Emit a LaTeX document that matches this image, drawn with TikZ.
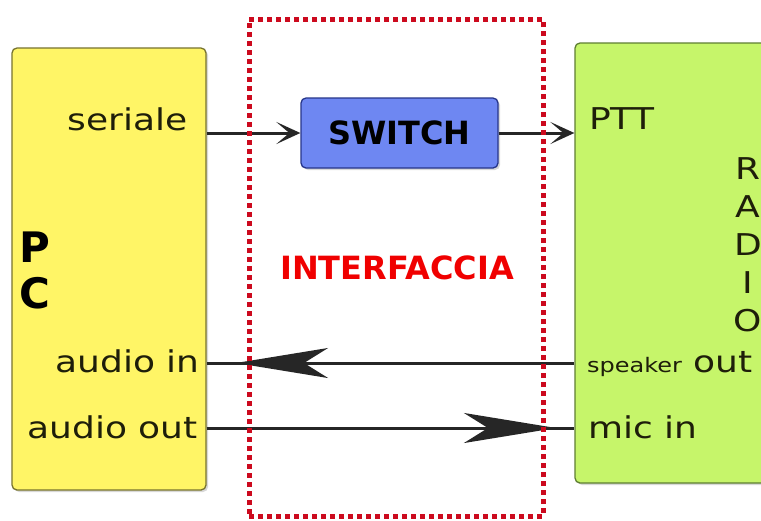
\documentclass[tikz,border=0pt]{standalone}
\usepackage{fontspec}
\setmainfont{DejaVu Sans}[FakeStretch=1.2]
\newfontfamily\blockfont{DejaVu Sans}
\usetikzlibrary{arrows.meta,shadows}

\definecolor{pcyellow}{HTML}{FFF566}
\definecolor{pcedge}{HTML}{77732E}
\definecolor{radiogreen}{HTML}{C6F56A}
\definecolor{radioedge}{HTML}{5E7E32}
\definecolor{swblue}{HTML}{6E87F2}
\definecolor{swedge}{HTML}{26358A}
\definecolor{dotred}{HTML}{CC0A1E}
\definecolor{ifred}{HTML}{F00000}
\definecolor{lblgray}{HTML}{1E1E0A}

\tikzset{
  smallhead/.tip={Stealth[length=24pt,width=22pt,inset=13pt]},
  bighead/.tip={Stealth[length=92pt,width=30pt,inset=24pt]},
}

\begin{document}
\begin{tikzpicture}[x=1pt,y=-1pt,
  box/.style={draw, rounded corners=5pt, line width=1.3pt, inner sep=0pt,
    drop shadow={shadow xshift=2pt,shadow yshift=-2pt,opacity=.3}},
  pcbox/.style={box, fill=pcyellow, draw=pcedge, minimum width=194pt, minimum height=442pt},
  radiobox/.style={box, fill=radiogreen, draw=radioedge, minimum width=215pt, minimum height=440pt},
  swbox/.style={box, fill=swblue, draw=swedge, minimum width=197pt, minimum height=70pt,
    font=\blockfont\bfseries\fontsize{32}{32}\selectfont, text=black},
  iface/.style={draw=dotred, line width=5pt, dash pattern=on 5pt off 4pt,
    minimum width=294pt, minimum height=497pt, inner sep=0pt},
  lbl/.style={font=\fontsize{30}{38}\selectfont, text=lblgray, inner sep=0pt},
  wire/.style={line width=3pt, draw=black!85},
]
\fill[white] (0,0) rectangle (761,520);
\useasboundingbox (0,0) rectangle (761,520);

% blocks
\node[pcbox] (pc) at (109,269) {};
\node[radiobox] (radio) at (682.5,263) {};
\node[swbox] (sw) at (399.5,133) {SWITCH};

% labels on the PC side
\node[font=\blockfont\bfseries\fontsize{42}{46}\selectfont, align=center, inner sep=0pt] (pclbl) at (35,270) {P\\C};
\node[lbl, anchor=base east] (ser) at (188,130) {seriale};
\node[lbl, anchor=base east] (ain) at (200,372) {audio in};
\node[lbl, anchor=base east] (aout) at (198,438) {audio out};

% labels on the radio side
\node[lbl, anchor=base west] (ptt) at (589,129) {PTT};
\node[lbl, anchor=base west] (spk) at (587,372) {{\fontsize{20}{20}\selectfont speaker} out};
\node[lbl, anchor=base west] (mic) at (588,438) {mic in};
\node[lbl, align=center] (radiolbl) at (748,245) {R\\A\\D\\I\\O};

% connectors
\coordinate (yA) at (0,363);
\coordinate (yB) at (0,428);
\coordinate (tipA) at (236,363);
\coordinate (tipB) at (556,428);
\draw[wire, -{smallhead}] (sw.west -| pc.east) -- (sw.west);
\draw[wire, -{smallhead}] (sw.east) -- (sw.east -| radio.west);
\draw[wire] (pc.east |- yA) -- (radio.west |- yA);
\draw[wire, -{bighead}] (radio.west |- yA) -- (tipA);
\draw[wire] (pc.east |- yB) -- (radio.west |- yB);
\draw[wire, -{bighead}] (pc.east |- yB) -- (tipB);

% interface frame
\node[iface] (ifbox) at (396,267.5) {};
\node[font=\blockfont\bfseries\fontsize{32}{32}\selectfont, text=ifred, inner sep=0pt] (iflbl) at (397,268) {INTERFACCIA};
\end{tikzpicture}
\end{document}
